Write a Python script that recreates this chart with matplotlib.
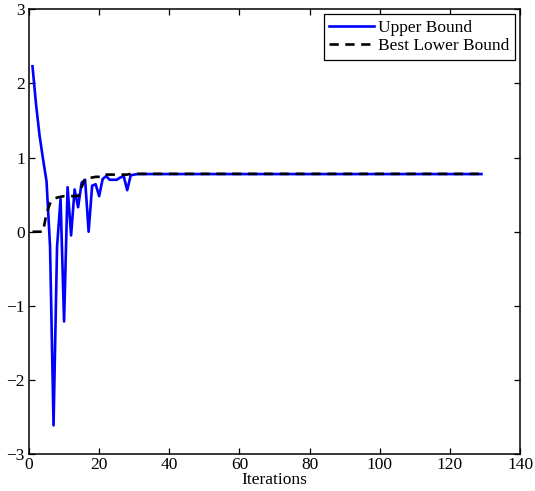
#!/usr/bin/env python3

import matplotlib
matplotlib.use("Agg")
from matplotlib.pyplot import figure, savefig, close

# Upper bound per iteration (1..129)
upper_head = [2.23, 1.72, 1.30, 0.98, 0.68, -0.20, -2.61, -0.20, 0.44, -1.21,
              0.60, -0.05, 0.57, 0.33, 0.66, 0.70, 0.00, 0.62, 0.64, 0.48,
              0.71, 0.75, 0.70, 0.70, 0.70, 0.73, 0.75, 0.56, 0.76, 0.77]
upper_tail = [0.777] * 99

# Best lower bound per iteration
lower_head = [0.0, 0.0, 0.0, 0.0, 0.25, 0.38, 0.44, 0.46, 0.47, 0.48,
              0.48, 0.48, 0.48, 0.48, 0.60, 0.72, 0.73, 0.73, 0.74, 0.74,
              0.74, 0.77, 0.77, 0.77, 0.77, 0.77, 0.77, 0.77, 0.78, 0.78]
lower_tail = [0.78] * 99

x_ticks = [0, 20, 40, 60, 80, 100, 120, 140]
y_ticks = [-3, -2, -1, 0, 1, 2, 3]


def draw_chart() -> None:
    """Upper bound vs best lower bound over the iterations"""
    upper = upper_head + upper_tail
    lower = lower_head + lower_tail
    iters = list(range(1, len(upper) + 1))

    fig = figure(figsize=(5.35, 4.91), dpi=100)
    ax = fig.add_axes([0.0542, 0.0747, 0.9178, 0.9067])

    ax.plot(iters, upper, color=(0, 0, 1), lw=1.9, label="Upper Bound")
    ax.plot(iters, lower, color="black", lw=1.9, dashes=(3.5, 2.5),
            label="Best Lower Bound")

    ax.set_xlim(0, 140)
    ax.set_ylim(-3, 3)
    ax.set_xticks(x_ticks)
    ax.set_yticks(y_ticks)
    ax.tick_params(direction="in", length=4.5, width=0.9, top=True, right=True,
                   labelsize=12.5)
    ax.tick_params(axis="x", pad=2)
    ax.tick_params(axis="y", pad=3)
    for s in ax.spines.values():
        s.set_linewidth(1.1)
    ax.set_xlabel("Iterations", fontsize=12.5, labelpad=-1)

    leg = ax.legend(loc="upper right", fontsize=12.5, fancybox=False,
                    edgecolor="black", framealpha=1, borderaxespad=0.3,
                    handlelength=2.6, handletextpad=0.25, borderpad=0.3,
                    labelspacing=0.15)
    leg.get_frame().set_linewidth(0.9)

    savefig("out.png", dpi=100)
    close(fig)


if __name__ == "__main__":
    import matplotlib.pyplot as plt
    plt.rcParams["font.family"] = ["Liberation Serif", "DejaVu Serif"]
    plt.rcParams["axes.unicode_minus"] = True
    draw_chart()
